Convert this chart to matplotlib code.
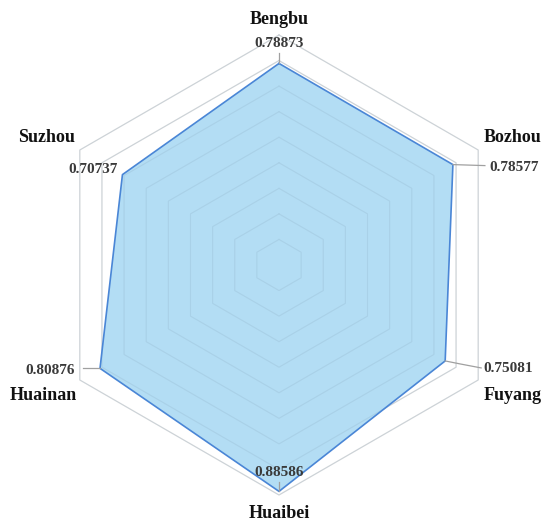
import numpy as np
import matplotlib
matplotlib.use("Agg")
import matplotlib.pyplot as plt

categories = ["Bengbu", "Bozhou", "Fuyang", "Huaibei", "Huainan", "Suzhou"]
values = [0.78873, 0.78577, 0.75081, 0.88586, 0.80876, 0.70737]
value_labels = ["0.78873", "0.78577", "0.75081", "0.88586", "0.80876", "0.70737"]
ring_levels = [0.1, 0.2, 0.3, 0.4, 0.5, 0.6, 0.7, 0.8, 0.9]

W, H = 550, 527
CX, CY = 279, 265          # centre in pixels (from top-left)
SCALE = 230 / 0.9          # pixels per value unit

fig = plt.figure(figsize=(W / 100, H / 100), dpi=100)
ax = fig.add_axes([0, 0, 1, 1])
ax.set_xlim(-CX / SCALE, (W - CX) / SCALE)
ax.set_ylim(-(H - CY) / SCALE, CY / SCALE)
ax.set_aspect("equal")
ax.axis("off")

n = len(categories)
angles = np.arange(n) * 2 * np.pi / n  # clockwise from top


def to_xy(r, a):
    return r * np.sin(a), r * np.cos(a)


# grid hexagons
for lvl in ring_levels:
    xs, ys = to_xy(lvl, np.append(angles, angles[0]))
    ax.plot(xs, ys, color="#d9d9d9", lw=0.9, zorder=1)

# data polygon
vx, vy = to_xy(np.array(values), angles)
ax.fill(vx, vy, color="#a3d6f2", alpha=0.82, zorder=2, lw=0)
ax.plot(np.append(vx, vx[0]), np.append(vy, vy[0]), color="#4a86d6", lw=1.2, zorder=3)

# grid lines faintly over fill
for lvl in ring_levels:
    xs, ys = to_xy(lvl, np.append(angles, angles[0]))
    ax.plot(xs, ys, color="#9fbfd6", lw=0.6, alpha=0.25, zorder=2.5)

fp_val = dict(family=["Liberation Serif", "DejaVu Serif"], fontweight="bold", fontsize=11)
fp_cat = dict(family=["Liberation Serif", "DejaVu Serif"], fontweight="bold", fontsize=13)
px = 72 / 100  # points per pixel

# value label offsets (pixels, +x right, +y down), alignment, leader end offsets
val_cfg = [
    ((0, -20), "center", "center", [(0, -10)]),
    ((36, 3), "left", "center", [(32, 1)]),
    ((38, 8), "left", "center", [(15, 3), (36, 7)]),
    ((0, -19), "center", "center", [(0, -9)]),
    ((-25, 2), "right", "center", [(-17, 0)]),
    ((-5, -5), "right", "center", []),
]
for i in range(n):
    (ox, oy), ha, va, leader = val_cfg[i]
    pts = [(vx[i], vy[i])]
    for lx, ly in leader:
        pts.append((vx[i] + lx / SCALE, vy[i] - ly / SCALE))
    if len(pts) > 1:
        ax.plot([p[0] for p in pts], [p[1] for p in pts], color="#a0a0a0", lw=0.9, zorder=4)
    ax.annotate(value_labels[i], (vx[i], vy[i]), xytext=(ox * px, -oy * px),
                textcoords="offset points", ha=ha, va=va, color="#3a3a3a", zorder=5, **fp_val)

# category labels (pixel positions of label anchors)
cat_pos = [
    (279, 19),
    (513, 137),
    (513, 395),
    (279, 513),
    (43, 395),
    (46, 137),
]
for i, (x, y) in enumerate(cat_pos):
    ax.text((x - CX) / SCALE, (CY - y) / SCALE, categories[i], ha="center", va="center",
            color="#111111", zorder=5, **fp_cat)

fig.savefig("out.png", dpi=100)
